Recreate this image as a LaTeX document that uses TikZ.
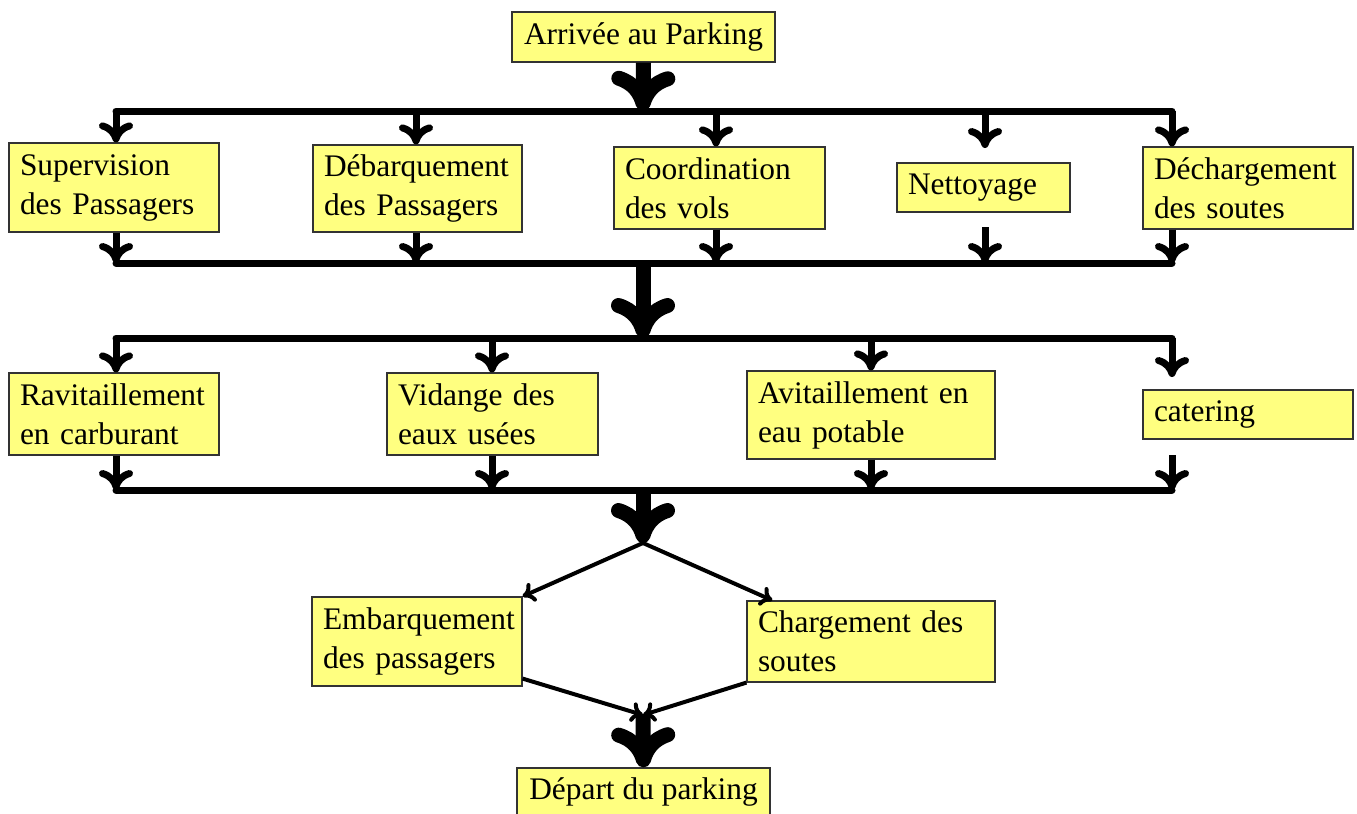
\documentclass[tikz,border=0pt]{standalone}
\usepackage{fontspec}
\setmainfont{Liberation Serif}
\usetikzlibrary{arrows.meta}
\definecolor{boxyellow}{HTML}{FFFF80}
\definecolor{boxedge}{HTML}{333333}
\begin{document}
\begin{tikzpicture}[x=0.5pt,y=-0.5pt,
  box/.style={draw=boxedge, line width=0.6pt, fill=boxyellow, inner xsep=5.5pt, inner ysep=0pt,
    align=left, font=\fontsize{15.7}{19.5}\selectfont},
  cbox/.style={box, align=center},
  bar/.style={line width=3.5pt, line cap=round},
  stub/.style={line width=3.5pt, -{Computer Modern Rightarrow[length=10pt,width=17pt]}},
  big/.style={line width=7.5pt, -{Computer Modern Rightarrow[length=20pt,width=32pt]}},
  thin/.style={line width=2pt, -{Computer Modern Rightarrow[length=6pt,width=10pt]}}
]
\useasboundingbox (0,0) rectangle (1357,814);

% boxes
\node[cbox, minimum width=131.5pt, minimum height=25pt] (arr) at (643.5,37) {Arrivée au Parking};
\node[box, minimum width=105pt, minimum height=44.5pt, text width=94pt] (sup) at (114,187.5) {Supervision\\des Passagers};
\node[box, minimum width=104.5pt, minimum height=43.5pt, text width=93.5pt] (deb) at (417.5,188.5) {Débarquement\\des Passagers};
\node[box, minimum width=105.5pt, minimum height=41pt, text width=94.5pt] (coo) at (719.5,188) {Coordination\\des vols};
\node[box, minimum width=86.5pt, minimum height=24.5pt, text width=75.5pt] (net) at (983.5,187.5) {Nettoyage};
\node[box, minimum width=105pt, minimum height=41pt, text width=94pt] (dec) at (1248,188) {Déchargement\\des soutes};

\node[box, minimum width=105pt, minimum height=41pt, text width=94pt] (rav) at (114,414) {Ravitaillement\\en carburant};
\node[box, minimum width=105.5pt, minimum height=41pt, text width=94.5pt] (vid) at (492.5,414) {Vidange des\\eaux usées};
\node[box, minimum width=124pt, minimum height=44pt, text width=113pt] (avi) at (871,415) {Avitaillement en\\eau potable};
\node[box, minimum width=105pt, minimum height=24.5pt, text width=94pt] (cat) at (1248,414.5) {catering};

\node[box, minimum width=105pt, minimum height=44.5pt, text width=94pt] (emb) at (417,641.5) {Embarquement\\des passagers};
\node[box, minimum width=124pt, minimum height=40.5pt, text width=113pt] (cha) at (871,641.5) {Chargement des\\soutes};

\node[cbox, minimum width=126.5pt, minimum height=24pt] (dep) at (643.5,792) {Départ du parking};

% coordinates on the bars
\coordinate (b1L) at (116,111);  \coordinate (b1R) at (1172,111);
\coordinate (b2L) at (116,263);  \coordinate (b2R) at (1172,263);
\coordinate (b3L) at (116,338);  \coordinate (b3R) at (1172,338);
\coordinate (b4L) at (116,490);  \coordinate (b4R) at (1172,490);
\coordinate (m1) at (643,111);
\coordinate (m2) at (643,263);
\coordinate (m3) at (643,338);
\coordinate (m4) at (643,490);
\coordinate (j) at (643,543);
\coordinate (k) at (643,715);
\coordinate (t1) at (416,111); \coordinate (t2) at (716,111); \coordinate (t3) at (985,111);
\coordinate (u1) at (416,263); \coordinate (u2) at (716,263); \coordinate (u3) at (985,263);
\coordinate (t4) at (492,338); \coordinate (t5) at (871,338);
\coordinate (u4) at (492,490); \coordinate (u5) at (871,490);
\coordinate (netin) at (985,148);
\coordinate (netout) at (985,227);
\coordinate (catin) at (1172,377);
\coordinate (catout) at (1172,455);

% bars
\draw[bar] (b1L) -- (b1R);
\draw[bar] (b2L) -- (b2R);
\draw[bar] (b3L) -- (b3R);
\draw[bar] (b4L) -- (b4R);

% stubs row 1
\draw[stub] (b1L) -- (b1L |- sup.north);
\draw[stub] (t1) -- (t1 |- deb.north);
\draw[stub] (t2) -- (t2 |- coo.north);
\draw[stub] (t3) -- (netin);
\draw[stub] (b1R) -- (b1R |- dec.north);
\draw[stub] (b2L |- sup.south) -- (b2L);
\draw[stub] (u1 |- deb.south) -- (u1);
\draw[stub] (u2 |- coo.south) -- (u2);
\draw[stub] (netout) -- (u3);
\draw[stub] (b2R |- dec.south) -- (b2R);

% stubs row 2
\draw[stub] (b3L) -- (b3L |- rav.north);
\draw[stub] (t4) -- (t4 |- vid.north);
\draw[stub] (t5) -- (t5 |- avi.north);
\draw[stub] (b3R) -- (catin);
\draw[stub] (b4L |- rav.south) -- (b4L);
\draw[stub] (u4 |- vid.south) -- (u4);
\draw[stub] (u5 |- avi.south) -- (u5);
\draw[stub] (catout) -- (b4R);

% big arrows
\draw[big] (arr.south) -- (m1);
\draw[big] (m2) -- (m3);
\draw[big] (m4) -- (j);
\draw[big] (k) -- (dep.north);

% diagonals
\draw[thin] (j) -- (emb.north east);
\draw[thin] (j) -- ([xshift=13pt]cha.north west);
\draw[thin] ([yshift=4pt]emb.south east) -- (k);
\draw[thin] (cha.south west) -- (k);
\end{tikzpicture}
\end{document}
